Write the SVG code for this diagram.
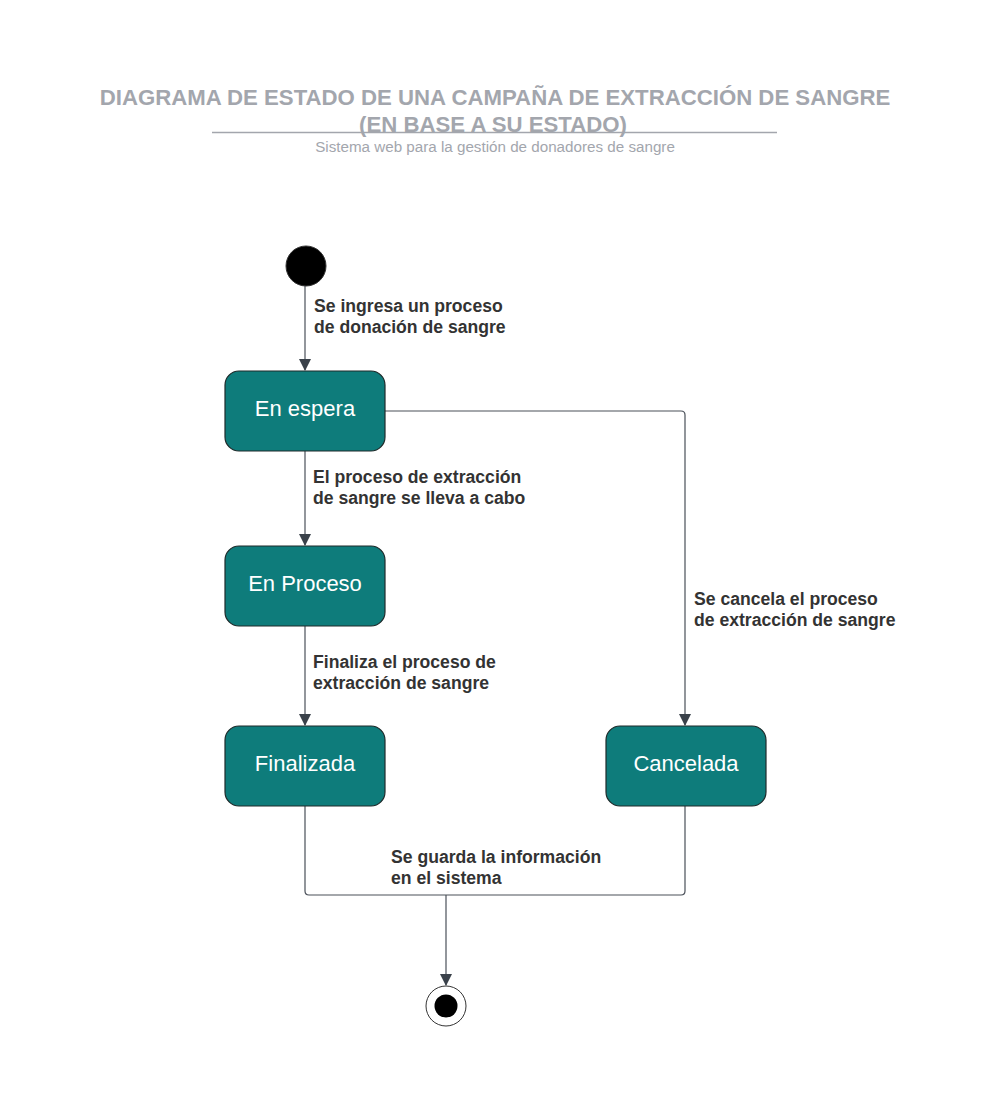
<svg xmlns="http://www.w3.org/2000/svg" width="998" height="1117" viewBox="0 0 998 1117">
<style>
.title{font-family:"Liberation Sans",Arial,sans-serif;font-weight:bold;font-size:22.2px;fill:#a3a6ad;text-anchor:middle}
.sub{font-family:"Liberation Sans",Arial,sans-serif;font-size:15.2px;fill:#a3a6ad;text-anchor:middle}
.state{fill:#0e7c7b;stroke:#1f2a2a;stroke-width:1.2}
.stext{font-family:"Liberation Sans",Arial,sans-serif;font-size:22px;fill:#ffffff;text-anchor:middle}
.lbl{font-family:"Liberation Sans",Arial,sans-serif;font-weight:bold;font-size:17.6px;fill:#333333}
.conn{fill:none;stroke:#4a5059;stroke-width:1.2}
</style>
<defs>
<marker id="arr" markerWidth="12" markerHeight="16" refX="11" refY="6" orient="auto" markerUnits="userSpaceOnUse" viewBox="0 0 12 12">
<path d="M0,0 L12,6 L0,12 z" fill="#3a414a"/>
</marker>
</defs>
<rect width="998" height="1117" fill="#ffffff"/>
<g id="title">
<text class="title" x="495" y="105">DIAGRAMA DE ESTADO DE UNA CAMPAÑA DE EXTRACCIÓN DE SANGRE</text>
<text class="title" x="493" y="132">(EN BASE A SU ESTADO)</text>
<line x1="212" y1="132.5" x2="777" y2="132.5" stroke="#a3a6ad" stroke-width="1.5"/>
<text class="sub" x="495" y="152">Sistema web para la gestión de donadores de sangre</text>
</g>
<g id="connectors">
<path class="conn" d="M305,286 L305,370" marker-end="url(#arr)"/>
<path class="conn" d="M305,451 L305,545" marker-end="url(#arr)"/>
<path class="conn" d="M305,626 L305,725" marker-end="url(#arr)"/>
<path class="conn" d="M385,411 L681,411 Q685,411 685,415 L685,725" marker-end="url(#arr)"/>
<path class="conn" d="M305,806 L305,891 Q305,895 309,895 L681,895 Q685,895 685,891 L685,806"/>
<path class="conn" d="M446,895 L446,985" marker-end="url(#arr)"/>
</g>
<g id="labels">
<text class="lbl" x="314" y="312">Se ingresa un proceso</text>
<text class="lbl" x="314" y="333">de donación de sangre</text>
<text class="lbl" x="313" y="483">El proceso de extracción</text>
<text class="lbl" x="313" y="504">de sangre se lleva a cabo</text>
<text class="lbl" x="313" y="668">Finaliza el proceso de</text>
<text class="lbl" x="313" y="689">extracción de sangre</text>
<text class="lbl" x="694" y="605">Se cancela el proceso</text>
<text class="lbl" x="694" y="626">de extracción de sangre</text>
<text class="lbl" x="391" y="863">Se guarda la información</text>
<text class="lbl" x="391" y="884">en el sistema</text>
</g>
<g id="start">
<circle cx="306" cy="266" r="20" fill="#000000" stroke="#333333" stroke-width="1"/>
</g>
<g id="en-espera">
<rect class="state" x="225" y="371" width="160" height="80" rx="14"/>
<text class="stext" x="305" y="416">En espera</text>
</g>
<g id="en-proceso">
<rect class="state" x="225" y="546" width="160" height="80" rx="14"/>
<text class="stext" x="305" y="591">En Proceso</text>
</g>
<g id="finalizada">
<rect class="state" x="225" y="726" width="160" height="80" rx="14"/>
<text class="stext" x="305" y="771">Finalizada</text>
</g>
<g id="cancelada">
<rect class="state" x="606" y="726" width="160" height="80" rx="14"/>
<text class="stext" x="686" y="771">Cancelada</text>
</g>
<g id="end">
<circle cx="446" cy="1006" r="20" fill="#ffffff" stroke="#333333" stroke-width="1"/>
<circle cx="446" cy="1006" r="11.5" fill="#000000"/>
</g>
</svg>
